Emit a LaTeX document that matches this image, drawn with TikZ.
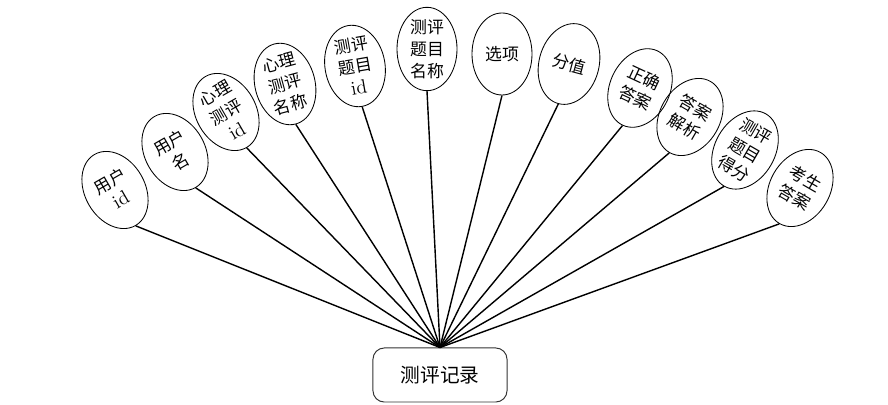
\documentclass[tikz,border=0pt]{standalone}
\usepackage{fontspec}
\newfontfamily\cjk{Noto Sans CJK SC}
\usepackage{tikz}
\usetikzlibrary{shapes.geometric,positioning}
\newcommand{\idtext}{{\rmfamily\fontsize{14}{15}\selectfont id}}

\begin{document}
\begin{tikzpicture}[
    x=0.025cm, y=-0.025cm,
    attr/.style={ellipse, draw=black, line width=0.6pt, inner sep=0pt,
                 minimum width=1.5cm, minimum height=2.05cm, align=center,
                 font=\cjk\fontsize{12}{15.5}\selectfont},
    entity/.style={rectangle, rounded corners=8pt, draw=black!80, line width=0.7pt,
                   minimum width=3.35cm, minimum height=1.35cm,
                   font=\cjk\fontsize{14}{16}\selectfont},
    link/.style={line width=1pt, black}
]
\useasboundingbox (0,0) rectangle (888,405);

\node[entity] (rec) at (440,375) {测评记录};

% attributes, left to right
\node[attr, rotate=30]  (uid)   at (115,190) {用户\\\idtext};
\node[attr, rotate=30]  (uname) at (175,152) {用户\\名};
\node[attr, rotate=30]  (pid)   at (226,112) {心理\\测评\\\idtext};
\node[attr, rotate=15]  (pname) at (285,84)  {心理\\测评\\名称};
\node[attr, rotate=10]  (qid)   at (355,66)  {测评\\题目\\\idtext};
\node[attr]             (qname) at (427,49)  {测评\\题目\\名称};
\node[attr]             (opt)   at (502,54)  {选项};
\node[attr, rotate=-15] (score) at (569,64)  {分值};
\node[attr, rotate=-25] (right) at (640,88)  {正确\\答案};
\node[attr, rotate=-30] (expl)  at (690,117) {答案\\解析};
\node[attr, rotate=-30] (qscore) at (745,150) {测评\\题目\\得分};
\node[attr, rotate=-30] (ans)   at (800,188) {考生\\答案};

\draw[link] (rec.north) -- (uid.south);
\draw[link] (rec.north) -- (uname.south);
\draw[link] (rec.north) -- (pid.south);
\draw[link] (rec.north) -- (pname.south);
\draw[link] (rec.north) -- (qid.south);
\draw[link] (rec.north) -- (qname.south);
\draw[link] (rec.north) -- (opt.south);
\draw[link] (rec.north) -- (score.south);
\draw[link] (rec.north) -- (right.south);
\draw[link] (rec.north) -- (expl.south);
\draw[link] (rec.north) -- (qscore.south);
\draw[link] (rec.north) -- (ans.south);
\end{tikzpicture}
\end{document}
